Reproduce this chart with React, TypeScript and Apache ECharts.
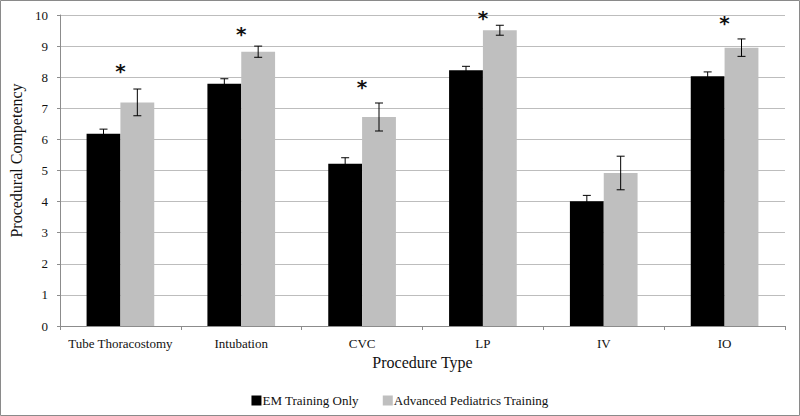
import React, { useEffect, useRef } from "react";
import * as echarts from "echarts";

const categories = ["Tube Thoracostomy", "Intubation", "CVC", "LP", "IV", "IO"];
const emValues = [6.18, 7.79, 5.22, 8.22, 4.01, 8.03];
const emErrors = [0.15, 0.16, 0.19, 0.13, 0.19, 0.14];
const pedValues = [7.19, 8.82, 6.72, 9.51, 4.92, 8.95];
const pedErrors = [0.43, 0.18, 0.45, 0.16, 0.54, 0.28];
const starValues = [8.2, 9.39, 7.68, 9.9, null, 9.74];
const yTicks = [0, 1, 2, 3, 4, 5, 6, 7, 8, 9, 10];

const FONT = "'Liberation Serif', 'Times New Roman', serif";
const CAT_GAP = 0.44;

function errorRenderer(side: number) {
  return (params: any, api: any) => {
    const idx = api.value(0);
    const val = api.value(1);
    const err = api.value(2);
    const band = api.size([1, 0])[0];
    const barW = (band * (1 - CAT_GAP)) / 2;
    const c = api.coord([idx, val]);
    const x = c[0] + side * barW / 2;
    const top = api.coord([idx, val + err])[1];
    const bot = api.coord([idx, val - err])[1];
    const cap = 4;
    const style = { stroke: "#000", lineWidth: 1 };
    return {
      type: "group",
      children: [
        { type: "line", shape: { x1: x, y1: top, x2: x, y2: bot }, style },
        { type: "line", shape: { x1: x - cap, y1: top, x2: x + cap, y2: top }, style },
        { type: "line", shape: { x1: x - cap, y1: bot, x2: x + cap, y2: bot }, style },
      ],
    };
  };
}

export default function App() {
  const ref = useRef<HTMLDivElement>(null);
  useEffect(() => {
    document.body.style.margin = "0";
    const chart = echarts.init(ref.current!, null, { renderer: "svg" });
    chart.setOption({
      animation: false,
      backgroundColor: "#fff",
      textStyle: { fontFamily: FONT },
      graphic: [
        {
          type: "rect",
          shape: { x: 0.5, y: 0.5, width: 799, height: 415 },
          style: { fill: "none", stroke: "#8a8a8a", lineWidth: 1 },
          z: 100,
        },
      ],
      grid: { left: 60, right: 15, top: 15, bottom: 90 },
      legend: {
        data: ["EM Training Only", "Advanced Pediatrics Training"],
        top: 389,
        left: "center",
        itemWidth: 10,
        itemHeight: 10,
        itemGap: 24,
        icon: "rect",
        textStyle: { fontFamily: FONT, fontSize: 13, color: "#111", padding: [0, 0, 0, -4] },
      },
      xAxis: {
        type: "category",
        data: categories,
        name: "Procedure Type",
        nameLocation: "middle",
        nameGap: 28,
        nameTextStyle: { fontFamily: FONT, fontSize: 16, color: "#111" },
        axisLine: { lineStyle: { color: "#8c8c8c" } },
        axisTick: { show: true, length: 4, lineStyle: { color: "#8c8c8c" } },
        axisLabel: { interval: 0, fontFamily: FONT, fontSize: 13, color: "#111", margin: 11 },
      },
      yAxis: {
        type: "value",
        min: 0,
        max: 10,
        interval: 1,
        name: "Procedural Competency",
        nameLocation: "middle",
        nameGap: 25,
        nameTextStyle: { fontFamily: FONT, fontSize: 16, color: "#111", padding: [0, 0, 0, 20] },
        axisLine: { show: true, lineStyle: { color: "#8c8c8c" } },
        axisTick: { show: true, length: 3, lineStyle: { color: "#8c8c8c" } },
        axisLabel: {
          fontFamily: FONT,
          fontSize: 13,
          color: "#111",
          margin: 12,
          formatter: (v: number) => (yTicks.includes(v) ? String(v) : ""),
        },
        splitLine: { lineStyle: { color: "#bdbdbd", width: 1 } },
      },
      series: [
        {
          name: "EM Training Only",
          type: "bar",
          data: emValues,
          itemStyle: { color: "#000" },
          barGap: "0%",
          barCategoryGap: CAT_GAP * 100 + "%",
        },
        {
          name: "Advanced Pediatrics Training",
          type: "bar",
          data: pedValues,
          itemStyle: { color: "#bfbfbf" },
          barGap: "0%",
          barCategoryGap: CAT_GAP * 100 + "%",
        },
        {
          type: "custom",
          name: "emErr",
          renderItem: errorRenderer(-1),
          data: emValues.map((v, i) => [i, v, emErrors[i]]),
          z: 10,
          silent: true,
        },
        {
          type: "custom",
          name: "pedErr",
          renderItem: errorRenderer(1),
          data: pedValues.map((v, i) => [i, v, pedErrors[i]]),
          z: 10,
          silent: true,
        },
        {
          type: "custom",
          name: "stars",
          renderItem: (params: any, api: any) => {
            const c = api.coord([api.value(0), api.value(1)]);
            return {
              type: "text",
              x: c[0],
              y: c[1],
              style: {
                text: "*",
                fontFamily: "DejaVu Sans",
                fontWeight: "bold",
                fontSize: 20,
                fill: "#111",
                align: "center",
                verticalAlign: "middle",
              },
            };
          },
          data: starValues
            .map((v, i) => (v == null ? null : [i, v]))
            .filter((d) => d != null),
          z: 10,
          silent: true,
        },
      ],
    });
    return () => chart.dispose();
  }, []);
  return <div ref={ref} style={{ width: 800, height: 416 }} />;
}
